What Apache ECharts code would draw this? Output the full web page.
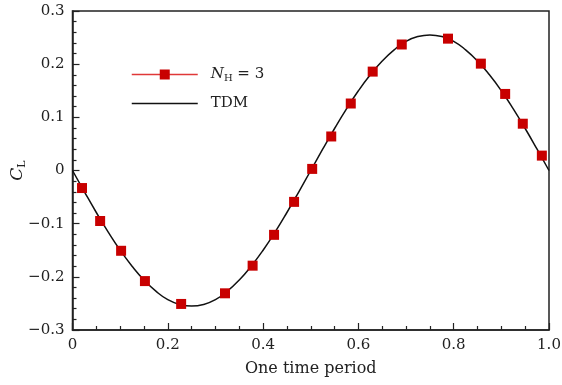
<!DOCTYPE html>
<html><head><meta charset="utf-8">
<script src="https://cdn.jsdelivr.net/npm/echarts@6/dist/echarts.min.js"></script>
<style>html,body{margin:0;padding:0;background:#fff}#c{width:562px;height:385px}</style>
</head><body><div id="c"></div>
<script>
// N_H = 3 (harmonic balance) points: [time, C_L]
const nhTime = [0.020,0.058,0.102,0.152,0.228,0.320,0.378,0.423,0.465,0.503,0.543,0.584,0.630,0.691,0.788,0.857,0.908,0.945,0.985];
const nhCL   = [-0.033,-0.095,-0.151,-0.208,-0.251,-0.231,-0.179,-0.121,-0.059,0.003,0.064,0.126,0.186,0.237,0.248,0.201,0.144,0.088,0.028];
// TDM curve
const tdmTime = [0,0.025,0.05,0.075,0.1,0.125,0.15,0.175,0.2,0.225,0.25,0.275,0.3,0.325,0.35,0.375,0.4,0.425,0.45,0.475,0.5,0.525,0.55,0.575,0.6,0.625,0.65,0.675,0.7,0.725,0.75,0.775,0.8,0.825,0.85,0.875,0.9,0.925,0.95,0.975,1.0];
const tdmCL   = [0,-0.040,-0.079,-0.116,-0.150,-0.180,-0.206,-0.227,-0.243,-0.252,-0.255,-0.252,-0.243,-0.227,-0.206,-0.180,-0.150,-0.116,-0.079,-0.040,0,0.040,0.079,0.116,0.150,0.180,0.206,0.227,0.243,0.252,0.255,0.252,0.243,0.227,0.206,0.180,0.150,0.116,0.079,0.040,0];
const xTicks = [0,0.2,0.4,0.6,0.8,1.0];
const yTicks = [-0.3,-0.2,-0.1,0,0.1,0.2,0.3];

const FONT = 'DejaVu Serif';
const chart = echarts.init(document.getElementById('c'), null, {renderer:'canvas'});
const fmtX = v => { const r = Math.round(v*10)/10; return r===0?'0':(r===1?'1.0':r.toFixed(1)); };
const fmtY = v => { const r = Math.round(v*10)/10; if (r===0) return '0'; return (r<0?'\u2212':'')+Math.abs(r).toFixed(1); };
chart.setOption({
  animation:false,
  backgroundColor:'#fff',
  textStyle:{fontFamily:FONT},
  grid:{left:72.5,right:13,top:11,bottom:55,show:true,borderColor:'#222',borderWidth:1.5,
        containLabel:false,outerBoundsMode:'none'},
  legend:{
    orient:'vertical', left:126, top:62, itemWidth:66, itemHeight:12.5, itemGap:13,
    textStyle:{fontFamily:FONT,fontSize:15,color:'#222',padding:[0,0,0,8],
      rich:{i:{fontFamily:FONT,fontStyle:'italic',fontSize:15,color:'#222'},
            s:{fontFamily:FONT,fontSize:10,color:'#222',padding:[7,0,0,0]},
            n:{fontFamily:FONT,fontSize:15,color:'#222'}}},
    formatter: name => name==='NH' ? '{i|N}{s|H}{n| = 3}' : '{n|TDM}',
    data:[
      {name:'NH',lineStyle:{color:'#e03838',width:1.5,opacity:1},itemStyle:{color:'#c80000',opacity:1}},
      {name:'TDM',lineStyle:{color:'#111',width:1.5,opacity:1},itemStyle:{opacity:0}}
    ]
  },
  xAxis:{
    type:'value',min:0,max:1,interval:0.2,
    name:'One time period',nameLocation:'middle',nameGap:31,nameMoveOverlap:false,
    nameTextStyle:{fontFamily:FONT,fontSize:16,color:'#222'},
    axisLine:{onZero:false,lineStyle:{color:'#222',width:1.5}},
    axisTick:{inside:true,length:7,lineStyle:{color:'#222',width:1.2}},
    minorTick:{show:true,splitNumber:4,length:4,lineStyle:{color:'#222',width:1.2}},
    axisLabel:{fontFamily:FONT,fontSize:15,color:'#222',margin:8,formatter:fmtX},
    splitLine:{show:false}
  },
  yAxis:{
    type:'value',min:-0.3,max:0.3,interval:0.1,
    name:'{i|C}{s|L}',nameLocation:'middle',nameGap:45,nameRotate:90,nameMoveOverlap:false,
    nameTextStyle:{fontFamily:FONT,fontSize:16,color:'#222',
      rich:{i:{fontFamily:FONT,fontStyle:'italic',fontSize:17,color:'#222'},
            s:{fontFamily:FONT,fontSize:11,color:'#222',padding:[8,0,0,0]}}},
    axisLine:{onZero:false,lineStyle:{color:'#222',width:1.5}},
    axisTick:{inside:true,length:7,lineStyle:{color:'#222',width:1.2}},
    minorTick:{show:true,splitNumber:5,length:4,lineStyle:{color:'#222',width:1.2}},
    axisLabel:{fontFamily:FONT,fontSize:15,color:'#222',margin:8,formatter:fmtY},
    splitLine:{show:false}
  },
  series:[
    {name:'TDM',type:'line',data:tdmTime.map((t,i)=>[t,tdmCL[i]]),
     smooth:true,symbol:'none',lineStyle:{color:'#111',width:1.5},itemStyle:{color:'#111'},z:2},
    {name:'NH',type:'line',data:nhTime.map((t,i)=>[t,nhCL[i]]),
     symbol:'rect',symbolSize:10,itemStyle:{color:'#c80000'},
     lineStyle:{color:'#e03030',width:1.5,opacity:0},z:3}
  ]
});
</script></body></html>
